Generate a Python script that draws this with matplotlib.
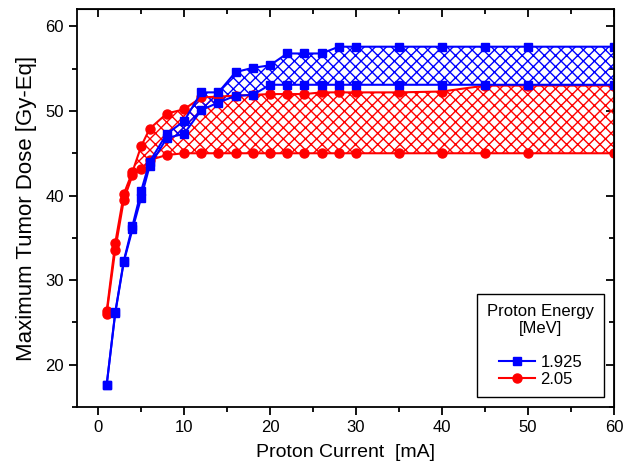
import matplotlib
matplotlib.use('Agg')
import matplotlib.pyplot as plt
from matplotlib.ticker import MultipleLocator

plt.rcParams['font.family'] = ['Liberation Sans', 'DejaVu Sans']
plt.rcParams['hatch.linewidth'] = 1.0

# proton current [mA]
current = [1, 2, 3, 4, 5, 6, 8, 10, 12, 14, 16, 18, 20, 22, 24, 26, 28, 30, 35, 40, 45, 50, 60]

# 1.925 MeV, upper / lower bound of max tumor dose
dose_1925_hi = [17.6, 26.2, 32.3, 36.4, 40.5, 44.0, 47.3, 48.8, 52.2, 52.2, 54.6, 55.1, 55.4,
                56.8, 56.8, 56.8, 57.6, 57.6, 57.6, 57.6, 57.6, 57.6, 57.6]
dose_1925_lo = [17.6, 26.1, 32.2, 36.0, 39.7, 43.5, 46.8, 47.3, 50.1, 51.0, 51.8, 51.9, 53.1,
                53.1, 53.1, 53.1, 53.1, 53.1, 53.1, 53.1, 53.1, 53.1, 53.1]

# 2.05 MeV
dose_205_hi = [26.3, 34.4, 40.2, 42.8, 45.8, 47.9, 49.7, 50.2, 51.6, 51.7, 51.8, 51.9, 52.0,
               52.0, 52.0, 52.2, 52.2, 52.2, 52.2, 52.3, 53.0, 53.0, 53.0]
dose_205_lo = [26.0, 33.6, 39.5, 42.4, 43.1, 44.2, 44.8, 45.0, 45.0, 45.0, 45.0, 45.0, 45.0,
               45.0, 45.0, 45.0, 45.0, 45.0, 45.0, 45.0, 45.0, 45.0, 45.0]

fig = plt.figure(figsize=(6.29, 4.63), dpi=100)
ax = fig.add_axes([0.1224, 0.121, 0.8536, 0.8585])

# hatched bands
ax.fill_between(current, dose_205_lo, dose_205_hi, facecolor='none', edgecolor='red',
                hatch='xxx', linewidth=0)
ax.fill_between(current, dose_1925_lo, dose_1925_hi, facecolor='none', edgecolor='blue',
                hatch='xxx', linewidth=0)

ax.plot(current, dose_205_lo, color='red', marker='o', ms=6.5, lw=1.5)
l2, = ax.plot(current, dose_205_hi, color='red', marker='o', ms=6.5, lw=1.5)
ax.plot(current, dose_1925_lo, color='blue', marker='s', ms=5.8, lw=1.5)
l1, = ax.plot(current, dose_1925_hi, color='blue', marker='s', ms=5.8, lw=1.5)

ax.set_xlim(-2.45, 60)
ax.set_ylim(15, 62)
ax.xaxis.set_major_locator(MultipleLocator(10))
ax.xaxis.set_minor_locator(MultipleLocator(5))
ax.yaxis.set_major_locator(MultipleLocator(10))
ax.yaxis.set_minor_locator(MultipleLocator(5))
ax.tick_params(which='both', direction='out', width=1.3, labelsize=12)
ax.tick_params(which='major', length=6)
ax.tick_params(which='minor', length=3.5)
for s in ax.spines.values():
    s.set_linewidth(1.3)

# mirrored ticks on top/right pointing inward
sec_x = ax.secondary_xaxis('top')
sec_x.xaxis.set_major_locator(MultipleLocator(10))
sec_x.xaxis.set_minor_locator(MultipleLocator(5))
sec_x.tick_params(which='both', direction='in', width=1.3, labeltop=False)
sec_x.tick_params(which='major', length=6)
sec_x.tick_params(which='minor', length=3.5)
sec_y = ax.secondary_yaxis('right')
sec_y.yaxis.set_major_locator(MultipleLocator(10))
sec_y.yaxis.set_minor_locator(MultipleLocator(5))
sec_y.tick_params(which='both', direction='in', width=1.3, labelright=False)
sec_y.tick_params(which='major', length=6)
sec_y.tick_params(which='minor', length=3.5)

ax.set_xlabel('Proton Current  [mA]', fontsize=14, labelpad=6)
ax.set_ylabel('Maximum Tumor Dose [Gy-Eq]', fontsize=16, labelpad=6)

leg = ax.legend([l1, l2], ['1.925', '2.05'], title='Proton Energy\n[MeV]\n',
                loc='lower right', fontsize=12, title_fontsize=12, fancybox=False,
                edgecolor='black', framealpha=1, borderaxespad=0.6, handlelength=2.2,
                handletextpad=0.3, labelspacing=0.1, borderpad=0.6)
leg.get_frame().set_linewidth(1.0)
leg.get_title().set_multialignment('center')
leg._legend_box.align = 'center'

fig.savefig('out.png', dpi=100)
